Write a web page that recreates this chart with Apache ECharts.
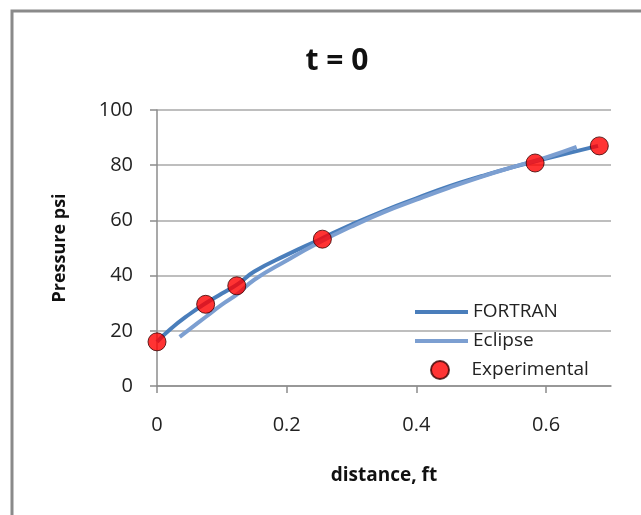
<!DOCTYPE html>
<html>
<head>
<meta charset="utf-8">
<script src="https://cdn.jsdelivr.net/npm/echarts@6/dist/echarts.min.js"></script>
<style>
  html, body { margin: 0; padding: 0; background: #fff; }
  #chart { width: 641px; height: 515px; }
</style>
</head>
<body>
<div id="chart"></div>
<script>
// Pressure profile along the core at t = 0
const fortranX = [0, 0.02, 0.05, 0.075, 0.1, 0.125, 0.15, 0.2, 0.25, 0.3, 0.35, 0.4, 0.45, 0.5, 0.55, 0.6, 0.65, 0.68];
const fortranY = [16, 20.5, 26, 30, 33.5, 37, 41.5, 47.5, 53, 58.5, 63.5, 68, 72.3, 76, 79.4, 82.4, 85.3, 87];

const eclipseX = [0.035, 0.05, 0.075, 0.1, 0.125, 0.15, 0.2, 0.25, 0.3, 0.35, 0.4, 0.45, 0.5, 0.55, 0.6, 0.647];
const eclipseY = [17.8, 20.5, 25, 29.5, 33.5, 38.5, 45.5, 52, 57.8, 63, 67.5, 71.8, 75.8, 79.4, 82.8, 86.6];

const expX = [0, 0.075, 0.123, 0.255, 0.583, 0.682];
const expY = [16, 29.6, 36.3, 53.2, 80.8, 87];

const xTicks = [0, 0.2, 0.4, 0.6];

const pairs = (xs, ys) => xs.map((x, i) => [x, ys[i]]);
const FONT = '"Open Sans", "Noto Sans", sans-serif';

const legendText = { fontFamily: FONT, fontSize: 19, lineHeight: 20, color: '#222' };

const chart = echarts.init(document.getElementById('chart'), null, { renderer: 'canvas' });
chart.setOption({
  animation: false,
  backgroundColor: '#ffffff',
  textStyle: { fontFamily: FONT },
  graphic: [{
    type: 'rect',
    shape: { x: 12, y: 11, width: 700, height: 600 },
    style: { fill: 'none', stroke: '#8a8a8a', lineWidth: 3 },
    silent: true
  }],
  title: {
    text: 't = 0',
    left: 332, top: 38, textAlign: 'center',
    textStyle: { fontFamily: FONT, fontSize: 30, lineHeight: 36, fontWeight: 'bold', color: '#111' }
  },
  grid: { left: 157, right: 30, top: 110, bottom: 129, containLabel: false },
  legend: [{
    left: 415, top: 302, padding: 0,
    itemWidth: 53, itemHeight: 4, icon: 'rect',
    textStyle: legendText,
    data: ['FORTRAN']
  }, {
    left: 415, top: 331, padding: 0,
    itemWidth: 53, itemHeight: 4, icon: 'rect',
    textStyle: legendText,
    data: ['Eclipse']
  }, {
    left: 430, top: 360, padding: 0,
    itemWidth: 53, itemHeight: 18,
    textStyle: legendText,
    data: [{ name: 'Experimental', icon: 'circle' }]
  }],
  xAxis: {
    type: 'value', min: 0, max: 0.7, interval: 0.2,
    name: 'distance, ft', nameLocation: 'middle', nameGap: 80,
    nameTextStyle: { fontFamily: FONT, fontSize: 19, fontWeight: 'bold', color: '#111' },
    axisLine: { show: true, onZero: false, lineStyle: { color: '#8c8c8c', width: 1.5 } },
    axisTick: { show: true, length: 7, customValues: xTicks, lineStyle: { color: '#8c8c8c', width: 1.5 } },
    axisLabel: { customValues: xTicks, margin: 29, fontFamily: FONT, fontSize: 20, color: '#222' },
    splitLine: { show: false }
  },
  yAxis: {
    type: 'value', min: 0, max: 100, interval: 20,
    name: 'Pressure psi', nameLocation: 'middle', nameGap: 88, nameRotate: 90,
    nameTextStyle: { fontFamily: FONT, fontSize: 18, fontWeight: 'bold', color: '#111' },
    axisLine: { show: true, lineStyle: { color: '#8c8c8c', width: 1.5 } },
    axisTick: { show: true, length: 7, lineStyle: { color: '#8c8c8c', width: 1.5 } },
    axisLabel: { margin: 24, fontFamily: FONT, fontSize: 20, color: '#222' },
    splitLine: { show: true, lineStyle: { color: '#a8a8a8', width: 1.5 } }
  },
  series: [{
    name: 'FORTRAN', type: 'line', smooth: true, symbol: 'none',
    color: '#4a7ebb',
    lineStyle: { color: '#4a7ebb', width: 4 },
    data: pairs(fortranX, fortranY), z: 2
  }, {
    name: 'Eclipse', type: 'line', smooth: true, symbol: 'none',
    color: '#7c9fd1',
    lineStyle: { color: '#7c9fd1', width: 4 },
    data: pairs(eclipseX, eclipseY), z: 3
  }, {
    name: 'Experimental', type: 'scatter',
    symbol: 'circle', symbolSize: 18,
    itemStyle: { color: '#ff0000', borderColor: '#3a0000', borderWidth: 1 },
    data: pairs(expX, expY), z: 5
  }]
});
</script>
</body>
</html>
